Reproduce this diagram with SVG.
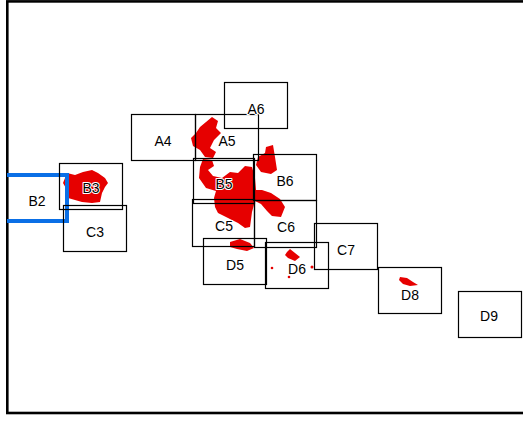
<svg xmlns="http://www.w3.org/2000/svg" width="523" height="423" viewBox="0 0 523 423">
<style>
.b{fill:none;stroke:#000;stroke-width:1.2}
.t{font-family:"Liberation Sans",Arial,sans-serif;font-size:14px;fill:#000;text-anchor:middle;stroke:#fff;stroke-width:2;paint-order:stroke;stroke-linejoin:round}
.m{fill:#e60000;stroke:none}
</style>
<rect x="0" y="0" width="523" height="423" fill="#fff"/>
<g id="map">
<path class="m" d="M212,117 L218,121 L216,128 L221,133 L214,140 L210,148 L216,152 L213,158 L205,157 L200,150 L193,146 L191,138 L196,133 L200,127 L206,122 Z"/>
<path class="m" d="M203,159 L212,160 L214,166 L208,170 L213,176 L222,178 L230,172 L238,173 L245,166 L252,167 L255,178 L256,190 L262,190 L271,193 L280,199 L285,207 L281,217 L272,216 L267,211 L261,204 L255,201 L252,212 L250,227 L245,228 L238,223 L228,218 L218,213 L215,207 L214,198 L216,191 L206,188 L199,178 L200,167 Z"/>
<path class="m" d="M266,147 L273,145 L275,157 L277,170 L271,174 L261,172 L256,165 L258,157 L265,153 Z"/>
<path class="m" d="M230,242 L240,239 L250,243 L254,248 L247,251 L237,249 L230,247 Z"/>
<path class="m" d="M287,252 L290,249 L295,253 L300,257 L295,261 L288,258 L285,255 Z"/>
<circle class="m" cx="272" cy="268" r="1.3"/>
<circle class="m" cx="289" cy="277" r="1.3"/>
<circle class="m" cx="312" cy="267" r="1.5"/>
<path class="m" d="M67,173 L75,175 L83,172 L92,170 L98,173 L105,178 L108,183 L105,187 L102,193 L100,202 L92,203 L82,202 L75,200 L68,198 L67,190 L63,183 L65,178 Z"/>
<path class="m" d="M400,277 L407,278 L413,282 L418,285 L410,286 L403,284 L399,280 Z"/>
</g>
<rect x="7.3" y="1.4" width="530" height="411.6" fill="none" stroke="#000" stroke-width="2.6"/>
<g id="A4"><rect class="b" x="131.5" y="114.5" width="64" height="46"/><text class="t" x="163" y="146">A4</text></g>
<g id="A5"><rect class="b" x="195.5" y="114.5" width="63" height="46"/><text class="t" x="227" y="146">A5</text></g>
<g id="A6"><rect class="b" x="224.5" y="82.5" width="63" height="46"/><text class="t" x="256" y="114">A6</text></g>
<g id="B2"><path d="M7,175 H67 V221 H7" fill="none" stroke="#0a6fe6" stroke-width="4"/><text class="t" x="37" y="206" style="stroke:none">B2</text></g>
<g id="B3"><rect class="b" x="59.5" y="163.5" width="63" height="46"/><text class="t" x="91" y="193">B3</text></g>
<g id="C3"><rect class="b" x="63.5" y="205.5" width="63" height="46"/><text class="t" x="95" y="237">C3</text></g>
<g id="B5"><rect class="b" x="193.5" y="158.5" width="61" height="45"/><text class="t" x="224" y="189">B5</text></g>
<g id="B6"><rect class="b" x="253.5" y="154.5" width="63" height="46"/><text class="t" x="285" y="186">B6</text></g>
<g id="C5"><rect class="b" x="192.5" y="199.5" width="62" height="47"/><text class="t" x="224" y="231">C5</text></g>
<g id="C6"><rect class="b" x="254.5" y="200.5" width="62" height="47"/><text class="t" x="286" y="232">C6</text></g>
<g id="C7"><rect class="b" x="314.5" y="223.5" width="63" height="46"/><text class="t" x="346" y="255">C7</text></g>
<g id="D5"><rect class="b" x="203.5" y="238.5" width="63" height="46"/><text class="t" x="235" y="270">D5</text></g>
<g id="D6"><rect class="b" x="265.5" y="242.5" width="63" height="46"/><text class="t" x="297" y="274">D6</text></g>
<g id="D8"><rect class="b" x="378.5" y="267.5" width="63" height="46"/><text class="t" x="410" y="300">D8</text></g>
<g id="D9"><rect class="b" x="458.5" y="291.5" width="63" height="46"/><text class="t" x="489" y="321">D9</text></g>
</svg>
